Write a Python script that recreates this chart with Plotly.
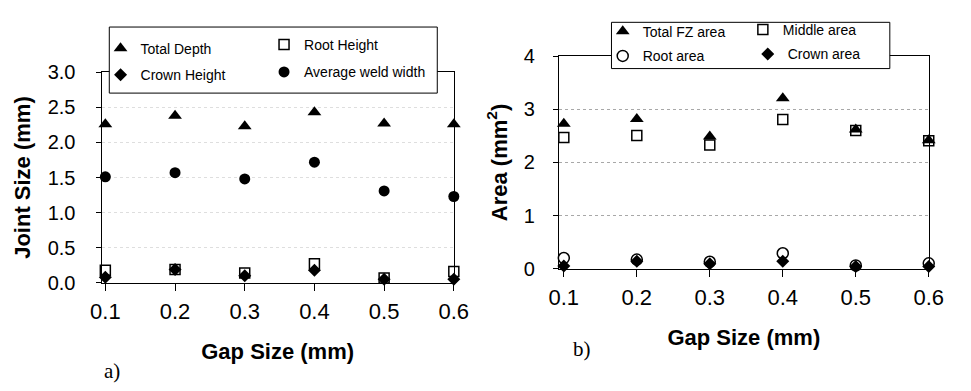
import plotly.graph_objects as go

W, H = 971, 391

# ---------------- data ----------------
gap = [0.1, 0.2, 0.3, 0.4, 0.5, 0.6]
gap_ticks = ["0.1", "0.2", "0.3", "0.4", "0.5", "0.6"]

# panel a) Joint size (mm)
total_depth = [2.26, 2.38, 2.23, 2.43, 2.27, 2.26]
root_height = [0.18, 0.19, 0.14, 0.27, 0.07, 0.16]
crown_height = [0.08, 0.19, 0.10, 0.18, 0.05, 0.05]
avg_weld_width = [1.51, 1.57, 1.48, 1.72, 1.31, 1.23]
joint_ticks = ["0.0", "0.5", "1.0", "1.5", "2.0", "2.5", "3.0"]
joint_tickvals = [0.0, 0.5, 1.0, 1.5, 2.0, 2.5, 3.0]

# panel b) Area (mm^2)
total_fz_area = [2.73, 2.82, 2.49, 3.21, 2.62, 2.42]
middle_area = [2.47, 2.51, 2.33, 2.81, 2.60, 2.41]
root_area = [0.20, 0.17, 0.13, 0.29, 0.06, 0.10]
crown_area = [0.05, 0.14, 0.09, 0.14, 0.04, 0.04]
area_ticks = ["0", "1", "2", "3", "4"]
area_tickvals = [0, 1, 2, 3, 4]

FONT = "Liberation Sans, Arial, sans-serif"
SERIF = "Liberation Serif, Times New Roman, serif"


def px_x(p):
    return p / W


def px_y(p):
    return 1 - p / H


fig = go.Figure()

# ---------------- traces ----------------
left_series = [
    ("Total Depth", total_depth, dict(symbol="triangle-up", size=12, color="black"), "legend"),
    ("Root Height", root_height, dict(symbol="square-open", size=10, color="black",
                                      line=dict(color="black", width=1.5)), "legend2"),
    ("Crown Height", crown_height, dict(symbol="diamond", size=10, color="black"), "legend3"),
    ("Average weld width", avg_weld_width, dict(symbol="circle", size=11, color="black"), "legend4"),
]
for name, vals, mk, lg in left_series:
    fig.add_trace(go.Scatter(x=gap, y=vals, mode="markers", name=name, marker=mk,
                             xaxis="x", yaxis="y", legend=lg, cliponaxis=False))

right_series = [
    ("Total FZ area", total_fz_area, dict(symbol="triangle-up", size=12, color="black"), "legend5"),
    ("Middle area", middle_area, dict(symbol="square-open", size=10, color="black",
                                      line=dict(color="black", width=1.5)), "legend6"),
    ("Root area", root_area, dict(symbol="circle-open", size=11, color="black",
                                  line=dict(color="black", width=1.5)), "legend7"),
    ("Crown area", crown_area, dict(symbol="diamond", size=10, color="black"), "legend8"),
]
for name, vals, mk, lg in right_series:
    fig.add_trace(go.Scatter(x=gap, y=vals, mode="markers", name=name, marker=mk,
                             xaxis="x2", yaxis="y2", legend=lg, cliponaxis=False))

# ---------------- axes ----------------
axis_common = dict(showline=True, linecolor="black", linewidth=1, mirror=True,
                   ticks="outside", tickcolor="black", zeroline=False,
                   tickfont=dict(family=FONT, size=21, color="black"))

xcommon = dict(axis_common, tickvals=gap, ticktext=gap_ticks, ticklen=7,
               showgrid=False, ticklabelstandoff=2,
               tickfont=dict(family=FONT, size=22, color="black"),
               title=dict(text="<b>Gap Size (mm)</b>",
                          font=dict(family=FONT, size=22, color="black"), standoff=20))

fig.update_layout(
    xaxis=dict(xcommon, domain=[px_x(93), px_x(455)], range=[0.0945, 0.6], anchor="y"),
    yaxis=dict(axis_common, domain=[px_y(288), px_y(65)], range=[0, 3.0],
               tickvals=joint_tickvals, ticktext=joint_ticks, ticklen=5,
               tickfont=dict(family=FONT, size=20, color="black"),
               ticklabelstandoff=16,
               showgrid=True, gridcolor="#dedede", griddash="dot", gridwidth=1,
               title=dict(text="<b>Joint Size (mm)</b>",
                          font=dict(family=FONT, size=22, color="black"), standoff=10),
               anchor="x"),
    xaxis2=dict(xcommon, domain=[px_x(563), px_x(943)], range=[0.0933, 0.6], anchor="y2"),
    yaxis2=dict(axis_common, domain=[px_y(273), px_y(48)], range=[0, 4],
                tickvals=area_tickvals, ticktext=area_ticks, ticklen=5,
                tickfont=dict(family=FONT, size=20, color="black"),
                ticklabelstandoff=14,
                showgrid=True, gridcolor="#a8a8a8", griddash="dot", gridwidth=1,
                title=dict(text="<b>Area (mm<sup>2</sup>)</b>",
                           font=dict(family=FONT, size=22, color="black"), standoff=10),
                anchor="x2"),
)

# ---------------- legends (one per entry, placed like the original boxes) ----------------
leg_font = dict(family=FONT, size=14, color="black")
TEXT_OFF = 42  # text start offset from legend's left edge (px)
legend_pos = {  # (text start px, row centre px)
    "legend": (134, 40),
    "legend2": (302, 36),
    "legend3": (134, 68),
    "legend4": (302, 65),
    "legend5": (650, 22),
    "legend6": (794, 20),
    "legend7": (650, 48),
    "legend8": (799, 46),
}
for key, (tx, my) in legend_pos.items():
    fig.update_layout({key: dict(x=px_x(tx - TEXT_OFF), y=px_y(my), xanchor="left", yanchor="middle",
                                 bgcolor="rgba(0,0,0,0)", borderwidth=0, font=leg_font,
                                 itemwidth=30)})

# legend boxes
fig.add_shape(type="rect", xref="paper", yref="paper",
              x0=px_x(101), x1=px_x(438), y0=px_y(87), y1=px_y(17),
              line=dict(color="black", width=1), fillcolor="white", layer="above")
fig.add_shape(type="rect", xref="paper", yref="paper",
              x0=px_x(617), x1=px_x(903), y0=px_y(61), y1=px_y(12),
              line=dict(color="black", width=1), fillcolor="white", layer="above")

# panel labels
fig.add_annotation(text="a)", x=px_x(104), y=px_y(381), xref="paper", yref="paper",
                   xanchor="center", yanchor="middle", showarrow=False,
                   font=dict(family=SERIF, size=21, color="black"))
fig.add_annotation(text="b)", x=px_x(587), y=px_y(358), xref="paper", yref="paper",
                   xanchor="center", yanchor="middle", showarrow=False,
                   font=dict(family=SERIF, size=21, color="black"))

fig.update_layout(width=W, height=H, margin=dict(l=0, r=0, t=0, b=0),
                  paper_bgcolor="white", plot_bgcolor="white", showlegend=True,
                  font=dict(family=FONT, color="black"))

fig.write_html("out.html")
